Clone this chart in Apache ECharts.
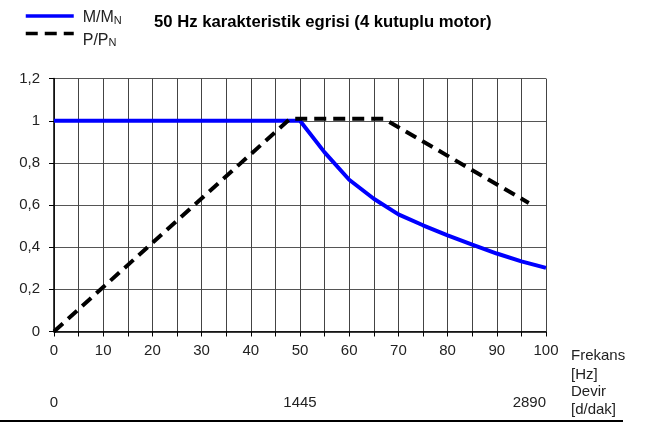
<!DOCTYPE html>
<html>
<head>
<meta charset="utf-8">
<script src="https://cdn.jsdelivr.net/npm/echarts@6/dist/echarts.min.js"></script>
<style>
  html, body { margin: 0; padding: 0; background: #fff; }
  #chart { width: 651px; height: 423px; }
</style>
</head>
<body>
<div id="chart"></div>
<script>
// Torque curve M/MN against frequency [Hz]
const torqueFreq = [0, 50, 55, 60, 65, 70, 75, 80, 85, 90, 95, 100];
const torqueVals = [1, 1, 0.85, 0.72, 0.63, 0.556, 0.504, 0.456, 0.412, 0.37, 0.333, 0.302];

// Power curve P/PN against frequency [Hz]
const powerFreq = [0, 48, 67, 96.5];
const powerVals = [0, 1.01, 1.01, 0.61];

// Speed scale shown under the frequency axis
const speedAtFreq = [0, 50, 100];
const speedLabels = ['0', '1445', '2890'];

const FONT = '"Liberation Sans", Arial, sans-serif';

const chart = echarts.init(document.getElementById('chart'), null, { renderer: 'canvas' });

const pairs = (xs, ys) => xs.map((x, i) => [x, ys[i]]);

chart.setOption({
  animation: false,
  backgroundColor: '#fff',
  textStyle: { fontFamily: FONT },
  title: {
    text: '50 Hz karakteristik egrisi (4 kutuplu motor)',
    left: 149,
    top: 9,
    textStyle: { fontFamily: FONT, fontSize: 16.7, fontWeight: 'bold', color: '#000' }
  },
  legend: {
    orient: 'vertical',
    left: 19,
    top: 5,
    itemWidth: 48,
    itemHeight: 14,
    itemGap: 2,
    selectedMode: false,
    itemStyle: { opacity: 0 },
    lineStyle: { width: 3.5 },
    textStyle: {
      fontFamily: FONT,
      color: '#222',
      rich: {
        a: { fontFamily: FONT, fontSize: 16, color: '#222' },
        b: { fontFamily: FONT, fontSize: 11, color: '#222', verticalAlign: 'bottom', padding: [3, 0, 0, 0] }
      }
    },
    data: [
      { name: 'M/MN', textStyle: { padding: [4, 0, 0, 4] } },
      { name: 'P/PN', textStyle: { padding: [13, 0, 0, 4] } }
    ],
    formatter: name => '{a|' + name.slice(0, -1) + '}{b|' + name.slice(-1) + '}'
  },
  grid: { left: 54, right: 105, top: 78.6, bottom: 91.5, containLabel: false },
  xAxis: [
    {
      type: 'value',
      min: 0,
      max: 100,
      interval: 5,
      name: 'Frekans\n[Hz]',
      nameLocation: 'end',
      nameGap: 25,
      nameTextStyle: {
        fontFamily: FONT, fontSize: 15, color: '#222',
        align: 'left', verticalAlign: 'top', lineHeight: 18.7, padding: [15, 0, 0, 0]
      },
      axisLine: { show: true, onZero: false, lineStyle: { color: '#000', width: 1.5 } },
      axisTick: { show: true, inside: false, length: 5, lineStyle: { color: '#000' } },
      axisLabel: {
        fontFamily: FONT, fontSize: 15, color: '#222', margin: 11.5,
        formatter: v => (v % 10 === 0 ? String(v) : '')
      },
      splitLine: { show: true, lineStyle: { color: '#444', width: 1 } }
    },
    {
      type: 'value',
      min: 0,
      max: 100,
      interval: 50,
      position: 'bottom',
      offset: 51,
      name: 'Devir\n[d/dak]',
      nameLocation: 'end',
      nameGap: 25,
      nameTextStyle: {
        fontFamily: FONT, fontSize: 15, color: '#222',
        align: 'left', verticalAlign: 'top', lineHeight: 18.3, padding: [51, 0, 0, 0]
      },
      axisLine: { show: false },
      axisTick: { show: false },
      splitLine: { show: false },
      axisLabel: {
        fontFamily: FONT, fontSize: 15, color: '#222', margin: 12.5,
        alignMaxLabel: 'right',
        formatter: v => {
          const i = speedAtFreq.indexOf(v);
          return i >= 0 ? speedLabels[i] : '';
        }
      }
    }
  ],
  yAxis: {
    type: 'value',
    min: 0,
    max: 1.2,
    interval: 0.2,
    axisLine: { show: true, onZero: false, lineStyle: { color: '#000', width: 1.5 } },
    axisTick: { show: true, inside: false, length: 5, lineStyle: { color: '#000' } },
    axisLabel: {
      fontFamily: FONT, fontSize: 15, color: '#222', margin: 14,
      formatter: v => String(Math.round(v * 10) / 10).replace('.', ',')
    },
    splitLine: { show: true, lineStyle: { color: '#555', width: 1 } }
  },
  graphic: [
    {
      type: 'line',
      shape: { x1: 0, y1: 421, x2: 623, y2: 421 },
      style: { stroke: '#000', lineWidth: 2 },
      silent: true
    }
  ],
  series: [
    {
      name: 'M/MN',
      type: 'line',
      data: pairs(torqueFreq, torqueVals),
      symbol: 'none',
      smooth: false,
      lineStyle: { color: '#0000ff', width: 4 },
      itemStyle: { color: '#0000ff' },
      z: 3
    },
    {
      name: 'P/PN',
      type: 'line',
      data: pairs(powerFreq, powerVals),
      symbol: 'none',
      smooth: false,
      lineStyle: { color: '#000', width: 4, type: [12, 7] },
      itemStyle: { color: '#000' },
      z: 4
    }
  ]
});
</script>
</body>
</html>
